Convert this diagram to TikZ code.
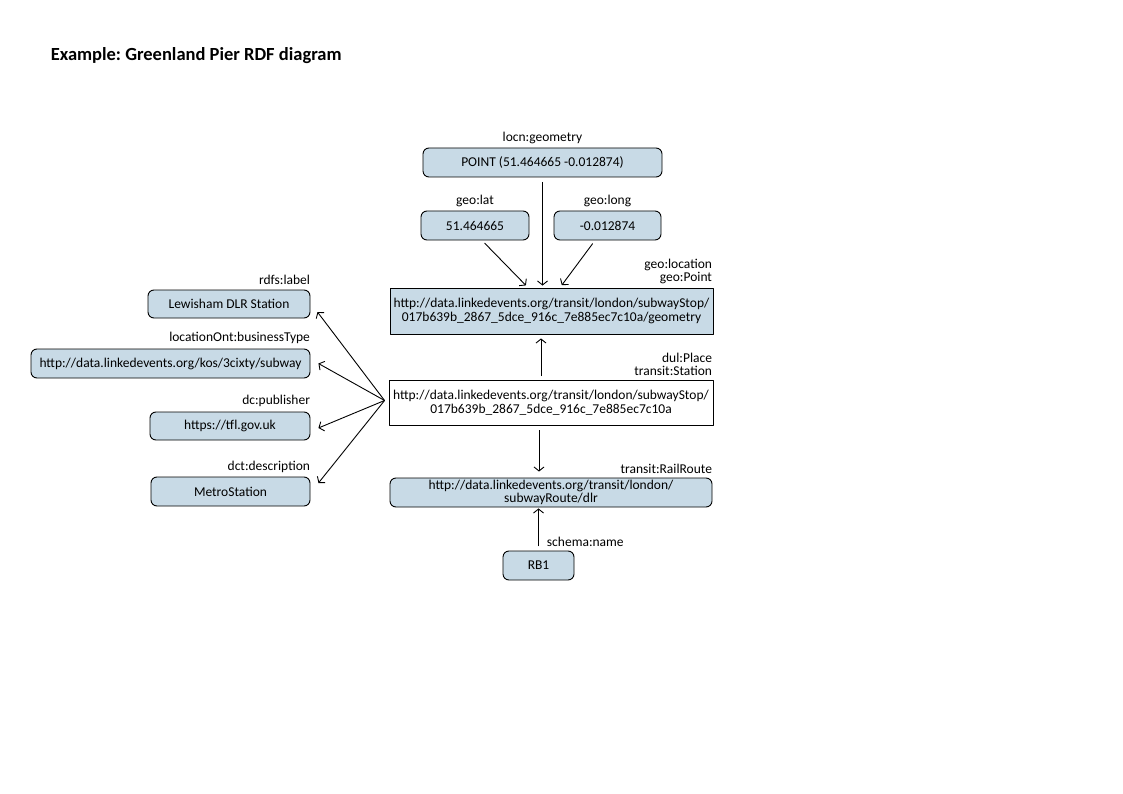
\documentclass[tikz,border=0pt]{standalone}
\usepackage{fontspec}
\setmainfont{Carlito}
\usetikzlibrary{positioning,arrows.meta}
\definecolor{litblue}{RGB}{200,218,230}
\tikzset{
  lit/.style={draw,rounded corners=6pt,fill=litblue,inner sep=0pt,minimum height=29pt,align=center},
  res/.style={draw,inner sep=0pt,minimum height=45pt,align=center},
  lbl/.style={inner sep=0pt,align=right},
}
\frenchspacing
\begin{document}
\begin{tikzpicture}[x=1pt,y=-1pt,>={Straight Barb[length=4pt,width=10pt]},line width=0.9pt,line join=round,line cap=round,font=\fontsize{13.5}{13.5}\selectfont]
		\useasboundingbox (0,0) rectangle (1123,794);
		\node[anchor=west,font=\fontsize{18.5}{20}\selectfont\bfseries] (title) at (47,56) {Example: Greenland Pier RDF diagram};
		% geometry part
		\node[lit,minimum width=239pt] (wkt) at (542.5,162.5) {POINT (51.464665 -0.012874)};
		\node[lit,minimum width=108pt] (lat) at (475,225.5) {51.464665};
		\node[lit,minimum width=107pt] (long) at (607.5,225.5) {-0.012874};
		\node[res,fill=litblue,minimum width=323pt,minimum height=46pt] (geom) at (551.5,311) {http://data.linkedevents.org/transit/london/subwayStop/\\017b639b\_2867\_5dce\_916c\_7e885ec7c10a/geometry};
		% the stop
		\node[res,minimum width=324pt] (stop) at (551,402.5) {http://data.linkedevents.org/transit/london/subwayStop/\\017b639b\_2867\_5dce\_916c\_7e885ec7c10a};
		\node[lit,minimum width=322pt] (route) at (551,492.5) {http://data.linkedevents.org/transit/london/\\subwayRoute/dlr};
		\node[lit,minimum width=71pt] (rb) at (538.5,565.5) {RB1};
		% literals on the left
		\node[lit,minimum width=162pt,minimum height=28pt] (lewis) at (229,304) {Lewisham DLR Station};
		\node[lit,minimum width=279pt] (btype) at (170.5,363.5) {http://data.linkedevents.org/kos/3cixty/subway};
		\node[lit,minimum width=160pt,minimum height=28pt] (tfl) at (230,426) {https://tfl.gov.uk};
		\node[lit,minimum width=159pt] (desc) at (230.5,491.5) {MetroStation};
		% labels
		\node[lbl,above=3pt of wkt] {locn:geometry};
		\node[lbl,above=3pt of lat] {geo:lat};
		\node[lbl,above=3pt of long] {geo:long};
		\node[lbl,above left=3pt and 1pt of geom.north east] {geo:location\\geo:Point};
		\node[lbl,above left=3pt and 1pt of stop.north east] {dul:Place\\transit:Station};
		\node[lbl,above left=3pt and 0pt of route.north east] {transit:RailRoute};
		\node[lbl,above right=4pt and 8pt of rb.north] {schema:name};
		\node[lbl,above left=4pt and 0pt of lewis.north east] {rdfs:label};
		\node[lbl,above left=4pt and 0pt of btype.north east] {locationOnt:businessType};
		\node[lbl,above left=4pt and 0pt of tfl.north east] {dc:publisher};
		\node[lbl,above left=3pt and 0pt of desc.north east] {dct:description};
		% arrows
		\draw[->,shorten <=5pt,shorten >=2pt] (wkt.south) -- (wkt.south |- geom.north);
		\draw[->,shorten <=4pt,shorten >=3pt] ([xshift=7pt]lat.south) -- ([xshift=-23.5pt]geom.north);
		\draw[->,shorten <=4pt,shorten >=3pt] ([xshift=-12.5pt]long.south) -- ([xshift=8.5pt]geom.north);
		\draw[->,shorten <=4pt,shorten >=4pt] ([xshift=-10pt]stop.north) -- ([xshift=-10pt]stop.north |- geom.south);
		\draw[->,shorten <=5pt,shorten >=6pt] ([xshift=-12pt]stop.south) -- ([xshift=-12pt]stop.south |- route.north);
		\draw[->,shorten <=5pt,shorten >=1pt] (rb.north) -- (rb.north |- route.south);
		\coordinate (fan) at ([shift={(-4pt,2pt)}]stop.west);
		\foreach \n/\s in {lewis/{(7pt,-8pt)},btype/{(8pt,0pt)},tfl/{(8pt,-2pt)},desc/{(8pt,8.5pt)}}
			\draw[->] (fan) -- ([shift=\s]\n.east);
\end{tikzpicture}
\end{document}
